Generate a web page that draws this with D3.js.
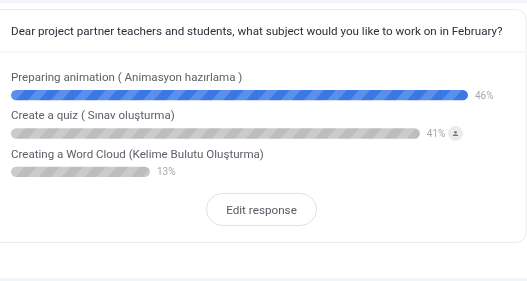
<!DOCTYPE html>
<html>
<head>
<meta charset="utf-8">
<script src="https://cdn.jsdelivr.net/npm/d3@7"></script>
<style>
  html, body { margin: 0; padding: 0; background: #fff; overflow: hidden; }
  svg { display: block; font-family: Roboto, sans-serif; filter: blur(0.55px); }
</style>
</head>
<body>
<div id="svg-area"></div>
<script>
var svgWidth = 527;
var svgHeight = 281;

var question = "Dear project partner teachers and students, what subject would you like to work on in February?";
var categories = [
  "Preparing animation ( Animasyon hazırlama )",
  "Create a quiz ( Sınav oluşturma)",
  "Creating a Word Cloud (Kelime Bulutu Oluşturma)"
];
var percents = [46, 41, 13];
var buttonLabel = "Edit response";

var svg = d3.select("#svg-area")
  .append("svg")
  .attr("width", svgWidth)
  .attr("height", svgHeight);

// stripe patterns for the bars
var defs = svg.append("defs");
function stripes(id, base, light) {
  var p = defs.append("pattern")
    .attr("id", id)
    .attr("patternUnits", "userSpaceOnUse")
    .attr("width", 23)
    .attr("height", 23)
    .attr("patternTransform", "translate(3,0) skewX(-42)");
  p.append("rect").attr("width", 23).attr("height", 23).attr("fill", base);
  p.append("rect").attr("width", 11).attr("height", 23).attr("fill", light);
}
stripes("stripe-blue", "#3b78e4", "#5c8fea");
stripes("stripe-grey", "#bdbdbd", "#cbcbcb");

// page strips and the card
svg.append("rect").attr("width", svgWidth).attr("height", 3).attr("fill", "#f1f5fa");
svg.append("rect").attr("y", 278).attr("width", svgWidth).attr("height", 3).attr("fill", "#f1f5fa");
svg.append("rect")
  .attr("x", -8).attr("y", 9.5)
  .attr("width", 534).attr("height", 233)
  .attr("rx", 10)
  .attr("fill", "#fff")
  .attr("stroke", "#e9ecef");
svg.append("line")
  .attr("x1", 0).attr("x2", 526)
  .attr("y1", 52).attr("y2", 52)
  .attr("stroke", "#eef0f2");

svg.append("text")
  .attr("x", 11).attr("y", 35)
  .attr("font-size", 11.65)
  .attr("fill", "#28303a")
  .text(question);

// scales: the short bar has a minimum width so the width scale bends at 13
var xScale = d3.scaleLinear()
  .domain([0, 13, 46])
  .range([0, 139, 457]);

var yScale = d3.scaleBand()
  .domain(categories)
  .range([90, 177])
  .paddingInner(0.73)
  .paddingOuter(0)
  .align(0);

var rows = svg.selectAll("g.row")
  .data(categories)
  .enter().append("g")
  .attr("class", "row")
  .attr("transform", d => "translate(11," + yScale(d) + ")");

rows.append("text")
  .attr("y", -9)
  .attr("font-size", 11.55)
  .attr("fill", "#5a6068")
  .text(d => d);

rows.append("rect")
  .attr("height", yScale.bandwidth())
  .attr("rx", yScale.bandwidth() / 2)
  .attr("width", (d, i) => xScale(percents[i]))
  .attr("fill", (d, i) => i === 0 ? "url(#stripe-blue)" : "url(#stripe-grey)");

rows.append("text")
  .attr("x", (d, i) => xScale(percents[i]) + 7)
  .attr("y", yScale.bandwidth() / 2 + 3.5)
  .attr("font-size", 10)
  .attr("fill", "#a4a8ac")
  .text((d, i) => percents[i] + "%");

// little avatar next to the answered option
var avatar = svg.append("g")
  .attr("transform", "translate(455.5," + (yScale(categories[1]) + yScale.bandwidth() / 2) + ")");
avatar.append("circle").attr("r", 7.5).attr("fill", "#ececec");
avatar.append("circle").attr("cy", -1.3).attr("r", 1.3).attr("fill", "#777");
avatar.append("path").attr("d", "M-2.6,2.6 V1.5 Q0,-0.2 2.6,1.5 V2.6 Z").attr("fill", "#777");

// button
svg.append("rect")
  .attr("x", 206.5).attr("y", 193.5)
  .attr("width", 110).attr("height", 32)
  .attr("rx", 16)
  .attr("fill", "#fff")
  .attr("stroke", "#dfe1e4");
svg.append("text")
  .attr("x", 261.5).attr("y", 214)
  .attr("text-anchor", "middle")
  .attr("font-size", 11.7)
  .attr("fill", "#565b62")
  .text(buttonLabel);
</script>
</body>
</html>
